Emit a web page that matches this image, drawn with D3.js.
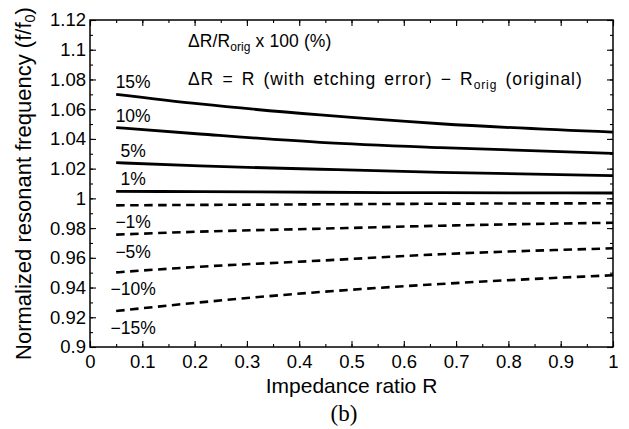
<!DOCTYPE html>
<html>
<head>
<meta charset="utf-8">
<script src="https://cdn.jsdelivr.net/npm/d3@7"></script>
<style>
  html, body { margin: 0; padding: 0; background: #fff; }
  svg { display: block; }
  text { font-family: "Liberation Sans", Arial, Helvetica, sans-serif; fill: #000; }
</style>
</head>
<body>
<svg id="chart" width="629" height="429"></svg>
<script>
// ---------- data ----------
const rValues = [0.05, 0.21, 0.44, 0.67, 1.0];
const seriesLabels = ["15%", "10%", "5%", "1%", "\u22121%", "\u22125%", "\u221210%", "\u221215%"];
const seriesDashed = [false, false, false, false, true, true, true, true];
const f15  = [1.0700, 1.0635, 1.0561, 1.0502, 1.0445];
const f10  = [1.0476, 1.0433, 1.0377, 1.0341, 1.0303];
const f5   = [1.0240, 1.0218, 1.0196, 1.0175, 1.0153];
const f1   = [1.0047, 1.0045, 1.0041, 1.0038, 1.0036];
const fm1  = [0.9953, 0.9956, 0.9960, 0.9964, 0.9967];
const fm5  = [0.9756, 0.9776, 0.9796, 0.9816, 0.9836];
const fm10 = [0.9502, 0.9540, 0.9581, 0.9624, 0.9664];
const fm15 = [0.9242, 0.9300, 0.9370, 0.9424, 0.9483];
const seriesValues = [f15, f10, f5, f1, fm1, fm5, fm10, fm15];

const xTickValues = [0, 0.1, 0.2, 0.3, 0.4, 0.5, 0.6, 0.7, 0.8, 0.9, 1];
const xTickLabels = ["0", "0.1", "0.2", "0.3", "0.4", "0.5", "0.6", "0.7", "0.8", "0.9", "1"];
const yTickValues = [0.9, 0.92, 0.94, 0.96, 0.98, 1.0, 1.02, 1.04, 1.06, 1.08, 1.1, 1.12];
const yTickLabels = ["0.9", "0.92", "0.94", "0.96", "0.98", "1", "1.02", "1.04", "1.06", "1.08", "1.1", "1.12"];
const xMinorValues = d3.range(0, 21).map(i => i / 20);
const yMinorValues = d3.range(0, 23).map(i => 0.9 + i / 100);

const xTitle = "Impedance ratio R";
const yTitle = "Normalized resonant frequency (f/f";
const caption = "(b)";

// ---------- layout ----------
const L = 90, R = 613, T = 20, B = 347;
const svg = d3.select("#chart");
const x = d3.scaleLinear().domain([0, 1]).range([L, R]);
const y = d3.scaleLinear().domain([0.9, 1.12]).range([B, T]);

function styleAxis(g) {
  g.select(".domain").remove();
  g.selectAll(".tick line").attr("stroke", "#000").attr("stroke-width", 1.1);
}

// minor ticks
svg.append("g").attr("transform", `translate(0,${B})`)
  .call(d3.axisBottom(x).tickValues(xMinorValues).tickSize(-3).tickFormat("")).call(styleAxis);
svg.append("g").attr("transform", `translate(0,${T})`)
  .call(d3.axisTop(x).tickValues(xMinorValues).tickSize(-3).tickFormat("")).call(styleAxis);
svg.append("g").attr("transform", `translate(${L},0)`)
  .call(d3.axisLeft(y).tickValues(yMinorValues).tickSize(-3).tickFormat("")).call(styleAxis);
svg.append("g").attr("transform", `translate(${R},0)`)
  .call(d3.axisRight(y).tickValues(yMinorValues).tickSize(-3).tickFormat("")).call(styleAxis);

// major ticks
svg.append("g").attr("transform", `translate(0,${B})`)
  .call(d3.axisBottom(x).tickValues(xTickValues).tickSize(-6).tickPadding(8)
    .tickFormat((d, i) => xTickLabels[i])).call(styleAxis);
svg.append("g").attr("transform", `translate(0,${T})`)
  .call(d3.axisTop(x).tickValues(xTickValues).tickSize(-6).tickFormat("")).call(styleAxis);
svg.append("g").attr("transform", `translate(${L},0)`)
  .call(d3.axisLeft(y).tickValues(yTickValues).tickSize(-6).tickPadding(4)
    .tickFormat((d, i) => yTickLabels[i])).call(styleAxis);
svg.append("g").attr("transform", `translate(${R},0)`)
  .call(d3.axisRight(y).tickValues(yTickValues).tickSize(-6).tickFormat("")).call(styleAxis);

svg.selectAll(".tick text")
  .attr("font-family", "'Liberation Sans', Arial, sans-serif")
  .attr("font-size", 18.5).attr("fill", "#000");

// frame
svg.append("rect").attr("x", L).attr("y", T).attr("width", R - L).attr("height", B - T)
  .attr("fill", "none").attr("stroke", "#000").attr("stroke-width", 1.5);

// lines
const line = d3.line().x(d => x(d[0])).y(d => y(d[1])).curve(d3.curveMonotoneX);
seriesValues.forEach((vals, i) => {
  const pts = rValues.map((r, j) => [r, vals[j]]);
  svg.append("path").datum(pts).attr("d", line)
    .attr("fill", "none").attr("stroke", "#000")
    .attr("stroke-width", seriesDashed[i] ? 2.6 : 2.8)
    .attr("stroke-dasharray", seriesDashed[i] ? "8.5,5.5" : null);
  svg.append("text")
    .attr("x", x(rValues[0]) + 17)
    .attr("y", y(vals[0]) + (seriesDashed[i] ? 23 : -6))
    .attr("text-anchor", "middle").attr("font-size", 17.5)
    .text(seriesLabels[i]);
});

// annotation
const a1 = svg.append("text").attr("x", 188).attr("y", 47).attr("font-size", 17.5)
  .attr("letter-spacing", 0.1);
a1.append("tspan").text("\u0394R/R");
a1.append("tspan").attr("font-size", 12).attr("dy", 4).text("orig");
a1.append("tspan").attr("dy", -4).text(" x 100 (%)");

const a2 = svg.append("text").attr("x", 188).attr("y", 85).attr("font-size", 17.5)
  .attr("letter-spacing", 0.9).attr("word-spacing", 2.5);
a2.append("tspan").text("\u0394R = R (with etching error) \u2212 R");
a2.append("tspan").attr("font-size", 12).attr("dy", 4).text("orig");
a2.append("tspan").attr("dy", -4).text(" (original)");

// axis titles
svg.append("text").attr("x", (L + R) / 2).attr("y", 393).attr("text-anchor", "middle")
  .attr("font-size", 21).text(xTitle);
const yt = svg.append("text").attr("transform", `translate(31,${(T + B) / 2}) rotate(-90)`)
  .attr("text-anchor", "middle").attr("font-size", 22);
yt.append("tspan").text(yTitle);
yt.append("tspan").attr("font-size", 14.5).attr("dy", 4).text("0");
yt.append("tspan").attr("dy", -4).text(")");

svg.append("text").attr("x", 344).attr("y", 421).attr("text-anchor", "middle")
  .style("font-family", "'Liberation Serif', 'Times New Roman', serif")
  .attr("font-size", 23).text(caption);
</script>
</body>
</html>
